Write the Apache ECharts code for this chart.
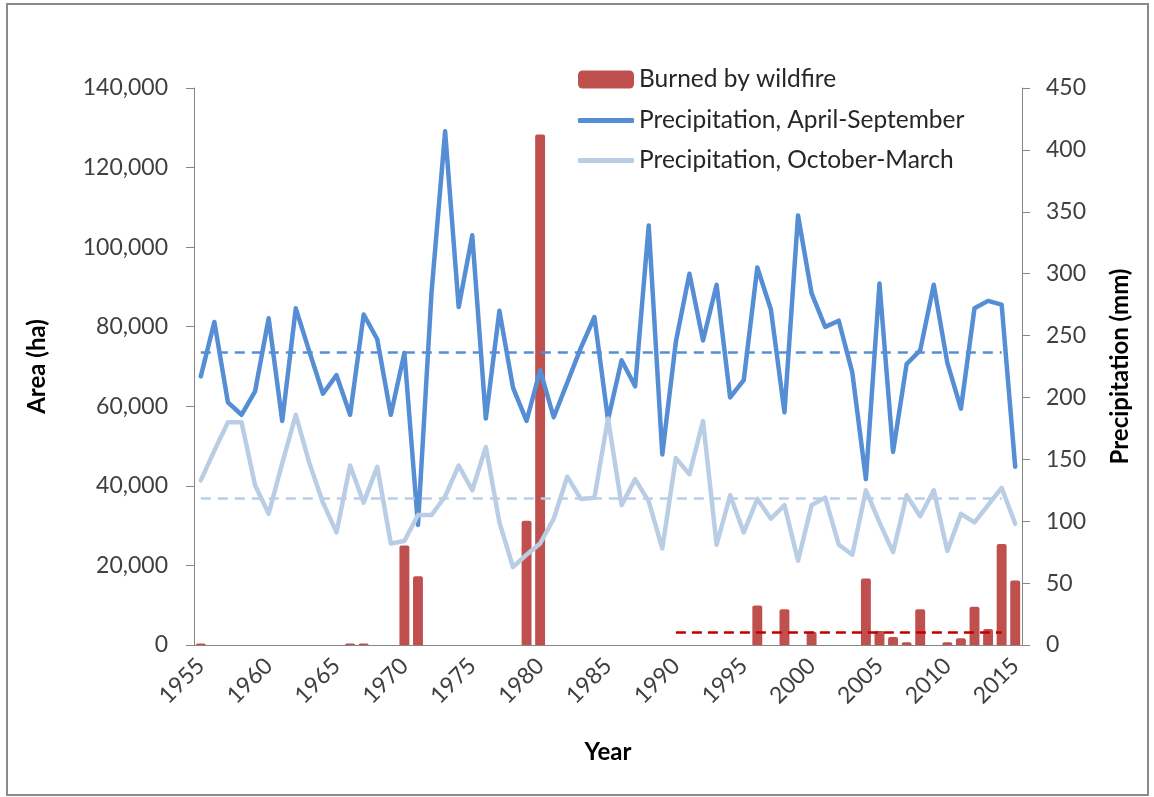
<!DOCTYPE html>
<html>
<head>
<meta charset="utf-8">
<script src="https://cdn.jsdelivr.net/npm/echarts@6/dist/echarts.min.js"></script>
<style>
  html, body { margin: 0; padding: 0; background: #fff; }
  #chart { width: 1154px; height: 797px; }
</style>
</head>
<body>
<div id="chart"></div>
<script>
// years on the category axis
var years = ['1955','1956','1957','1958','1959','1960','1961','1962','1963','1964',
  '1965','1966','1967','1968','1969','1970','1971','1972','1973','1974',
  '1975','1976','1977','1978','1979','1980','1981','1982','1983','1984',
  '1985','1986','1987','1988','1989','1990','1991','1992','1993','1994',
  '1995','1996','1997','1998','1999','2000','2001','2002','2003','2004',
  '2005','2006','2007','2008','2009','2010','2011','2012','2013','2014','2015'];

// area burned by wildfire (ha)
var burned = [400,0,0,0,0,0,0,0,0,0,
  0,400,400,0,0,25000,17300,0,0,0,
  0,0,0,0,31200,128300,0,0,0,0,
  0,0,0,0,0,0,0,0,0,0,
  0,9900,0,9000,0,3300,0,0,0,16700,
  3500,2000,700,9000,0,700,1700,9600,4000,25400,16200];

// precipitation April-September (mm)
var precipSummer = [217,261,196,186,205,264,181,272,237,203,
  218,186,267,247,186,236,97,285,415,273,
  331,183,270,208,181,222,184,212,240,265,
  182,230,209,339,154,245,300,246,291,200,
  214,305,271,188,347,284,257,262,220,134,
  292,156,227,238,291,228,191,272,278,275,144];

// precipitation October-March (mm)
var precipWinter = [133,157,180,180,129,106,147,186,147,115,
  91,145,115,144,82,84,105,105,120,145,
  125,160,99,63,73,82,102,136,118,119,
  183,113,134,116,78,151,138,181,81,121,
  91,118,102,113,68,113,119,81,73,125,
  99,75,121,104,125,76,106,99,113,127,98];

// reference (mean) levels shown as dashed lines
var meanSummer = 236.7;
var meanWinter = 118.5;
var meanBurned = 3330;
var meanBurnedFrom = '1990';
var meanTo = '2014';

var leftTicks = { min: 0, max: 140000, interval: 20000 };
var rightTicks = { min: 0, max: 450, interval: 50 };

var FONT = 'Lato';
var chart = echarts.init(document.getElementById('chart'), null, { renderer: 'canvas' });

var axisLineStyle = { color: '#868686', width: 1 };
var nameStyle = { fontSize: 24, fontWeight: 'bold', color: '#000', fontFamily: FONT };
var legendText = { fontSize: 24.5, color: '#262626', fontFamily: FONT };

var option = {
  backgroundColor: '#fff',
  textStyle: { fontFamily: FONT },
  animation: false,
  grid: { left: 194, right: 132, top: 88, bottom: 152 },
  legend: [
    {
      // bar entry
      orient: 'vertical',
      left: 573,
      top: 62,
      itemWidth: 56,
      itemHeight: 18,
      textStyle: legendText,
      data: [{ name: 'Burned by wildfire', icon: 'roundRect' }]
    },
    {
      // line entries
      orient: 'vertical',
      left: 573,
      top: 103,
      itemWidth: 56,
      itemHeight: 5,
      itemGap: 15,
      textStyle: legendText,
      data: [
        { name: 'Precipitation, April-September', icon: 'roundRect' },
        { name: 'Precipitation, October-March', icon: 'roundRect' }
      ]
    }
  ],
  graphic: [{
    type: 'rect',
    shape: { x: 7, y: 4, width: 1141, height: 791 },
    style: { fill: 'none', stroke: '#8a8a8a', lineWidth: 2 },
    silent: true
  }],
  xAxis: {
    type: 'category',
    data: years,
    name: 'Year',
    nameLocation: 'middle',
    nameGap: 95,
    nameTextStyle: nameStyle,
    axisLine: { lineStyle: axisLineStyle },
    axisTick: { interval: 4, length: 8, lineStyle: axisLineStyle },
    axisLabel: {
      interval: 4,
      rotate: 45,
      margin: 17,
      fontSize: 23,
      color: '#404040',
      fontFamily: FONT
    }
  },
  yAxis: [
    {
      type: 'value',
      min: leftTicks.min,
      max: leftTicks.max,
      interval: leftTicks.interval,
      name: 'Area (ha)',
      nameLocation: 'middle',
      nameGap: 145,
      nameRotate: 90,
      nameTextStyle: nameStyle,
      axisLine: { show: true, lineStyle: axisLineStyle },
      axisTick: { show: true, length: 8, lineStyle: axisLineStyle },
      splitLine: { show: false },
      axisLabel: {
        margin: 26,
        fontSize: 23,
        color: '#404040',
        fontFamily: FONT,
        formatter: function (v) { return v.toLocaleString('en-US'); }
      }
    },
    {
      type: 'value',
      position: 'right',
      min: rightTicks.min,
      max: rightTicks.max,
      interval: rightTicks.interval,
      name: 'Precipitation (mm)',
      nameLocation: 'middle',
      nameGap: 86,
      nameRotate: 90,
      nameTextStyle: nameStyle,
      axisLine: { show: true, lineStyle: axisLineStyle },
      axisTick: { show: true, length: 8, lineStyle: axisLineStyle },
      splitLine: { show: false },
      axisLabel: {
        margin: 24,
        fontSize: 23,
        color: '#404040',
        fontFamily: FONT
      }
    }
  ],
  series: [
    {
      name: 'Burned by wildfire',
      type: 'bar',
      yAxisIndex: 0,
      data: burned,
      barCategoryGap: '27%',
      itemStyle: { color: '#C0504D', borderRadius: [2, 2, 0, 0] },
      markLine: {
        silent: true,
        symbol: 'none',
        label: { show: false },
        lineStyle: { color: '#C00000', width: 2.5, type: [10, 6] },
        data: [[
          { coord: [years.indexOf(meanBurnedFrom), meanBurned] },
          { coord: [years.indexOf(meanTo), meanBurned] }
        ]]
      }
    },
    {
      name: 'Precipitation, April-September',
      type: 'line',
      yAxisIndex: 1,
      data: precipSummer,
      symbol: 'none',
      lineStyle: { color: '#558ED5', width: 4.5, join: 'round', cap: 'round' },
      itemStyle: { color: '#558ED5' },
      markLine: {
        silent: true,
        symbol: 'none',
        label: { show: false },
        lineStyle: { color: '#558ED5', width: 2.5, type: [10, 7] },
        data: [[
          { coord: [0, meanSummer] },
          { coord: [years.indexOf(meanTo), meanSummer] }
        ]]
      }
    },
    {
      name: 'Precipitation, October-March',
      type: 'line',
      yAxisIndex: 1,
      data: precipWinter,
      symbol: 'none',
      lineStyle: { color: '#B9CDE5', width: 4.5, join: 'round', cap: 'round' },
      itemStyle: { color: '#B9CDE5' },
      markLine: {
        silent: true,
        symbol: 'none',
        label: { show: false },
        lineStyle: { color: '#B9CDE5', width: 2.5, type: [10, 7] },
        data: [[
          { coord: [0, meanWinter] },
          { coord: [years.indexOf(meanTo), meanWinter] }
        ]]
      }
    }
  ]
};

chart.setOption(option);
</script>
</body>
</html>
